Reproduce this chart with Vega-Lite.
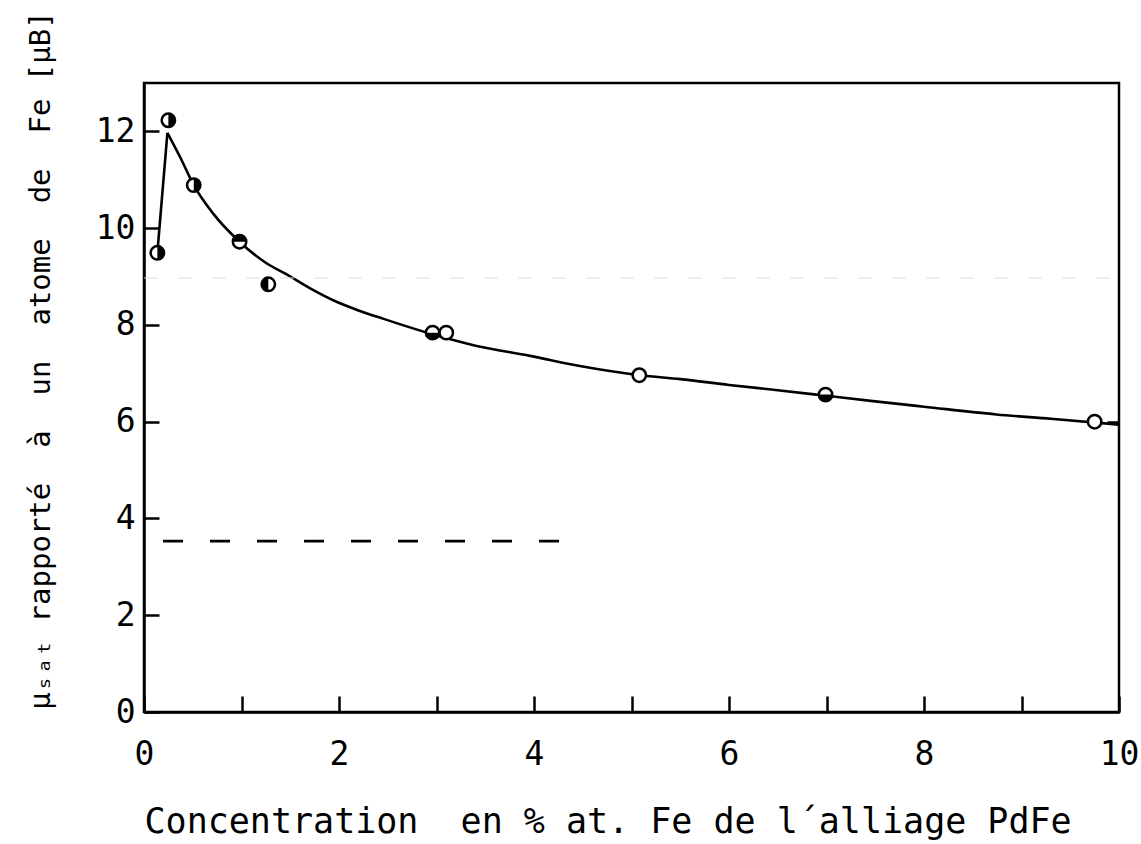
{
  "$schema": "https://vega.github.io/schema/vega-lite/v6.json",
  "width": 975,
  "height": 629,
  "autosize": {"type": "none"},
  "padding": {"left": 144, "top": 83, "right": 22, "bottom": 132},
  "background": "white",
  "config": {
    "view": {"stroke": "black", "strokeWidth": 2.5},
    "font": "DejaVu Sans Mono",
    "axis": {
      "grid": false,
      "domainColor": "black",
      "domainWidth": 2.5,
      "tickColor": "black",
      "tickWidth": 2.5,
      "labelColor": "black",
      "labelFont": "DejaVu Sans Mono",
      "labelFontSize": 33,
      "titleFont": "DejaVu Sans Mono",
      "titleColor": "black",
      "titleFontWeight": "normal",
      "labelFlush": false,
      "labelOverlap": false,
      "labelBound": false
    }
  },
  "datasets": {
    "rise": [
      {"x": 0.137, "y": 9.49},
      {"x": 0.24, "y": 11.97}
    ],
    "fall": [
      {"x": 0.24, "y": 11.97},
      {"x": 0.37, "y": 11.47},
      {"x": 0.51, "y": 10.89},
      {"x": 0.71, "y": 10.3},
      {"x": 0.98, "y": 9.72},
      {"x": 1.26, "y": 9.27},
      {"x": 1.45, "y": 9.06},
      {"x": 1.7, "y": 8.76},
      {"x": 1.94, "y": 8.51},
      {"x": 2.2, "y": 8.3},
      {"x": 2.45, "y": 8.13},
      {"x": 2.97, "y": 7.8},
      {"x": 3.4, "y": 7.57},
      {"x": 3.96, "y": 7.36},
      {"x": 4.47, "y": 7.15},
      {"x": 5.09, "y": 6.96},
      {"x": 5.5, "y": 6.88},
      {"x": 6.0, "y": 6.76},
      {"x": 6.5, "y": 6.65},
      {"x": 6.98, "y": 6.54},
      {"x": 7.5, "y": 6.42},
      {"x": 8.0, "y": 6.31},
      {"x": 8.74, "y": 6.15},
      {"x": 9.3, "y": 6.06},
      {"x": 10.0, "y": 5.94}
    ],
    "points": [
      {"x": 0.137, "y": 9.49, "half": "right"},
      {"x": 0.25, "y": 12.23, "half": "right"},
      {"x": 0.51, "y": 10.89, "half": "right"},
      {"x": 0.98, "y": 9.72, "half": "top"},
      {"x": 1.275, "y": 8.84, "half": "left"},
      {"x": 2.96, "y": 7.84, "half": "bottom"},
      {"x": 3.1, "y": 7.84, "half": "none"},
      {"x": 5.08, "y": 6.96, "half": "none"},
      {"x": 6.99, "y": 6.56, "half": "bottom"},
      {"x": 9.75, "y": 6.0, "half": "none"}
    ],
    "dashed": [
      {"x": 0.195, "y": 3.53},
      {"x": 4.27, "y": 3.53}
    ],
    "artifact": [
      {"x": 0, "y": 8.97},
      {"x": 10, "y": 8.97}
    ]
  },
  "layer": [
    {
      "data": {"name": "fall"},
      "mark": {"type": "line", "color": "black", "strokeWidth": 2.6, "interpolate": "monotone"},
      "encoding": {
        "x": {
          "field": "x", "type": "quantitative",
          "scale": {"domain": [0, 10], "nice": false, "zero": false},
          "axis": {
            "values": [0, 1, 2, 3, 4, 5, 6, 7, 8, 9, 10],
            "labelExpr": "datum.value % 2 === 0 ? format(datum.value, 'd') : ''",
            "tickSize": -16,
            "labelPadding": 42,
            "title": "Concentration\u00a0\u00a0en\u00a0%\u00a0at.\u00a0Fe\u00a0de\u00a0l´alliage\u00a0PdFe",
            "titleFontSize": 35,
            "titleX": 0,
            "titleAlign": "left",
            "titleAnchor": "start",
            "titleY": 120,
            "titleBaseline": "alphabetic"
          }
        },
        "y": {
          "field": "y", "type": "quantitative",
          "scale": {"domain": [0, 13], "nice": false, "zero": false},
          "axis": {
            "orient": "left",
            "values": [0, 2, 4, 6, 8, 10, 12],
            "tickSize": -15,
            "labelPadding": 24,
            "title": "μₛₐₜ\u00a0rapporté\u00a0\u00a0à\u00a0\u00a0un\u00a0\u00a0atome\u00a0\u00a0de\u00a0\u00a0Fe\u00a0[μB]",
            "titleFontSize": 29,
            "titleAngle": -90,
            "titleX": -104,
            "titleY": 277,
            "titleAlign": "center",
            "titleBaseline": "middle"
          }
        }
      }
    },
    {
      "data": {"name": "rise"},
      "mark": {"type": "line", "color": "black", "strokeWidth": 2.6},
      "encoding": {
        "x": {"field": "x", "type": "quantitative"},
        "y": {"field": "y", "type": "quantitative", "axis": null}
      }
    },
    {
      "data": {"name": "points"},
      "mark": {"type": "point", "shape": "circle", "filled": true, "fill": "white", "stroke": "black", "strokeWidth": 2.5, "size": 180, "opacity": 1},
      "encoding": {
        "x": {"field": "x", "type": "quantitative"},
        "y": {
          "field": "y", "type": "quantitative",
          "axis": {
            "orient": "right",
            "values": [6],
            "labels": false,
            "domain": false,
            "tickSize": -12,
            "title": null
          }
        }
      }
    },
    {
      "data": {"name": "points"},
      "transform": [{"filter": "datum.half !== 'none'"}],
      "mark": {"type": "point", "filled": true, "color": "black", "size": 180, "opacity": 1, "strokeWidth": 0},
      "encoding": {
        "x": {"field": "x", "type": "quantitative"},
        "y": {"field": "y", "type": "quantitative", "axis": null},
        "shape": {
          "field": "half", "type": "nominal", "legend": null,
          "scale": {
            "domain": ["right", "left", "top", "bottom"],
            "range": ["M0,-1A1,1 0 0,1 0,1Z", "M0,-1A1,1 0 0,0 0,1Z", "M-1,0A1,1 0 0,1 1,0Z", "M-1,0A1,1 0 0,0 1,0Z"]
          }
        }
      }
    },
    {
      "data": {"name": "dashed"},
      "mark": {"type": "line", "color": "black", "strokeWidth": 2.8, "strokeDash": [20, 27]},
      "encoding": {
        "x": {"field": "x", "type": "quantitative"},
        "y": {"field": "y", "type": "quantitative", "axis": null}
      }
    },
    {
      "data": {"name": "artifact"},
      "mark": {"type": "line", "color": "#dddddd", "strokeWidth": 1, "strokeDash": [14, 20]},
      "encoding": {
        "x": {"field": "x", "type": "quantitative"},
        "y": {"field": "y", "type": "quantitative", "axis": null}
      }
    }
  ],
  "resolve": {"axis": {"y": "independent"}}
}
